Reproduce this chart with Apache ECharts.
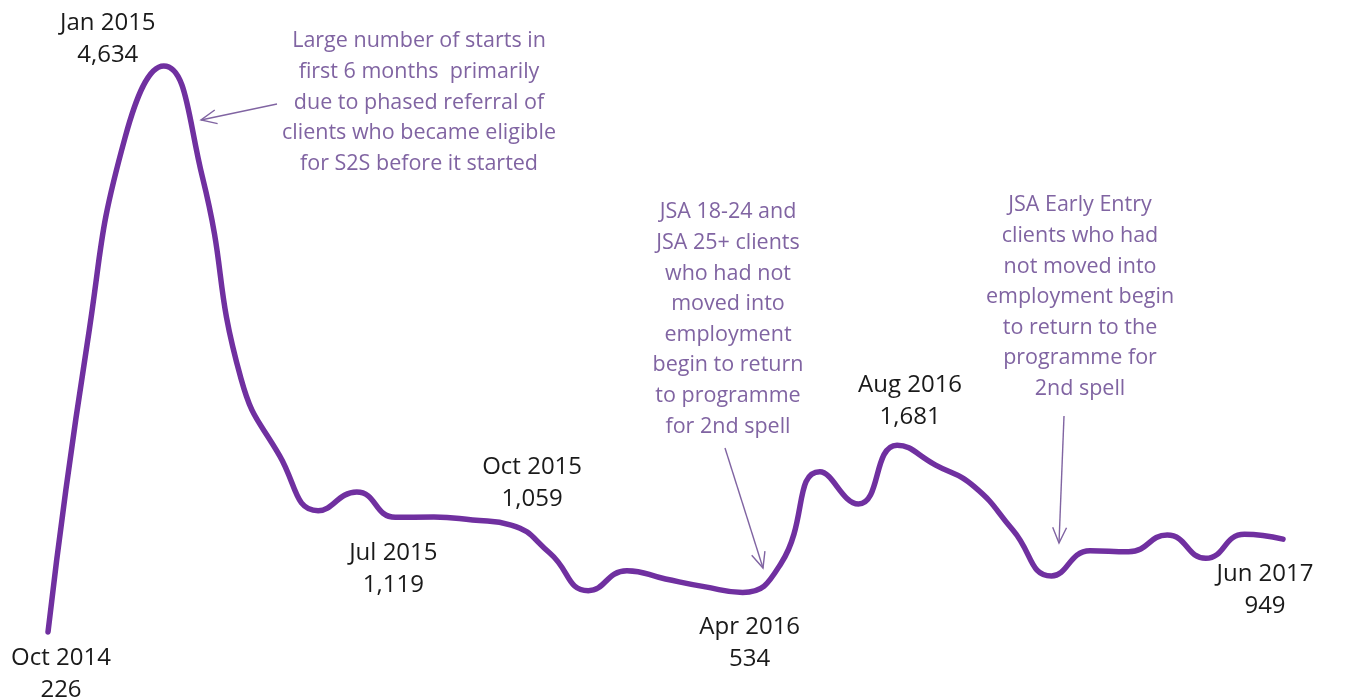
<!DOCTYPE html>
<html>
<head>
<meta charset="utf-8">
<script src="https://cdn.jsdelivr.net/npm/echarts@6/dist/echarts.min.js"></script>
<style>
  html, body { margin: 0; padding: 0; background: #fff; }
  #main { width: 1346px; height: 700px; }
</style>
</head>
<body>
<div id="main"></div>
<script>
// monthly starts, Oct 2014 - Jun 2017
const months = [
  "Oct 2014", "Nov 2014", "Dec 2014", "Jan 2015", "Feb 2015", "Mar 2015",
  "Apr 2015", "May 2015", "Jun 2015", "Jul 2015", "Aug 2015", "Sep 2015",
  "Oct 2015", "Nov 2015", "Dec 2015", "Jan 2016", "Feb 2016", "Mar 2016",
  "Apr 2016", "May 2016", "Jun 2016", "Jul 2016", "Aug 2016", "Sep 2016",
  "Oct 2016", "Nov 2016", "Dec 2016", "Jan 2017", "Feb 2017", "Mar 2017",
  "Apr 2017", "May 2017", "Jun 2017"
];
const starts = [
  226, 2440, 4080, 4634, 3770, 2200,
  1600, 1170, 1316, 1119, 1122, 1098,
  1059, 841, 548, 703, 639, 579,
  534, 763, 1474, 1223, 1681, 1526,
  1358, 1020, 662, 859, 851, 981,
  800, 987, 949
];
// months that get a "month / value" label
const labelledMonths = ["Oct 2014", "Jan 2015", "Jul 2015", "Oct 2015", "Apr 2016", "Aug 2016", "Jun 2017"];

const notes = [
  "Large number of starts in\nfirst 6 months  primarily\ndue to phased referral of\nclients who became eligible\nfor S2S before it started",
  "JSA 18-24 and\nJSA 25+ clients\nwho had not\nmoved into\nemployment\nbegin to return\nto programme\nfor 2nd spell",
  "JSA Early Entry\nclients who had\nnot moved into\nemployment begin\nto return to the\nprogramme for\n2nd spell"
];

// label offsets (px) from the point to the centre of the label
const labelOffsets = {
  "Oct 2014": [13, 42],
  "Jan 2015": [-56, -27],
  "Jul 2015": [-2, 52],
  "Oct 2015": [21, -42],
  "Apr 2016": [7, 51],
  "Aug 2016": [13, -44],
  "Jun 2017": [-18, 51]
};

const noteColor = "#8064a2";
const lineColor = "#7030a0";

const seriesData = starts.map(function (v, i) {
  const m = months[i];
  if (labelledMonths.indexOf(m) < 0) return v;
  return {
    value: v,
    label: {
      show: true,
      position: "inside",
      offset: labelOffsets[m],
      formatter: m + "\n" + v.toLocaleString("en-GB")
    }
  };
});

function arrow(x1, y1, x2, y2) {
  const a = Math.atan2(y2 - y1, x2 - x1);
  const len = 17, spread = 0.42;
  const p1 = [x2 - len * Math.cos(a - spread), y2 - len * Math.sin(a - spread)];
  const p2 = [x2 - len * Math.cos(a + spread), y2 - len * Math.sin(a + spread)];
  const st = { stroke: noteColor, lineWidth: 1.4, fill: null };
  return [
    { type: "line", shape: { x1: x1, y1: y1, x2: x2, y2: y2 }, style: st, silent: true },
    { type: "polyline", shape: { points: [p1, [x2, y2], p2] }, style: st, silent: true }
  ];
}

function note(text, cx, top) {
  return {
    type: "text",
    x: cx,
    y: top,
    style: {
      text: text,
      fill: noteColor,
      font: '21.5px "Open Sans"',
      lineHeight: 30.6,
      align: "center",
      verticalAlign: "top"
    },
    silent: true
  };
}

const chart = echarts.init(document.getElementById("main"), null, { renderer: "canvas" });

const option = {
  animation: false,
  backgroundColor: "#fff",
  grid: { left: 48, right: 63, top: 19, bottom: 39 },
  xAxis: {
    type: "category",
    data: months,
    boundaryGap: false,
    show: false
  },
  yAxis: {
    type: "value",
    min: 0,
    max: 5000,
    show: false
  },
  series: [
    {
      type: "line",
      data: seriesData,
      smooth: 0.5,
      showSymbol: true,
      symbol: "circle",
      symbolSize: 1,
      itemStyle: { color: lineColor },
      lineStyle: { color: lineColor, width: 5.5, cap: "round", join: "round" },
      label: {
        show: false,
        color: "#1a1a1a",
        fontFamily: "Open Sans",
        fontSize: 24,
        lineHeight: 32,
        align: "center",
        verticalAlign: "middle"
      }
    }
  ],
  graphic: [].concat(
    note(notes[0], 419, 26),
    note(notes[1], 728, 197),
    note(notes[2], 1080, 190),
    arrow(277, 104, 201, 120),
    arrow(725, 448, 763, 568),
    arrow(1064, 416, 1059, 543)
  )
};

chart.setOption(option);
</script>
</body>
</html>
